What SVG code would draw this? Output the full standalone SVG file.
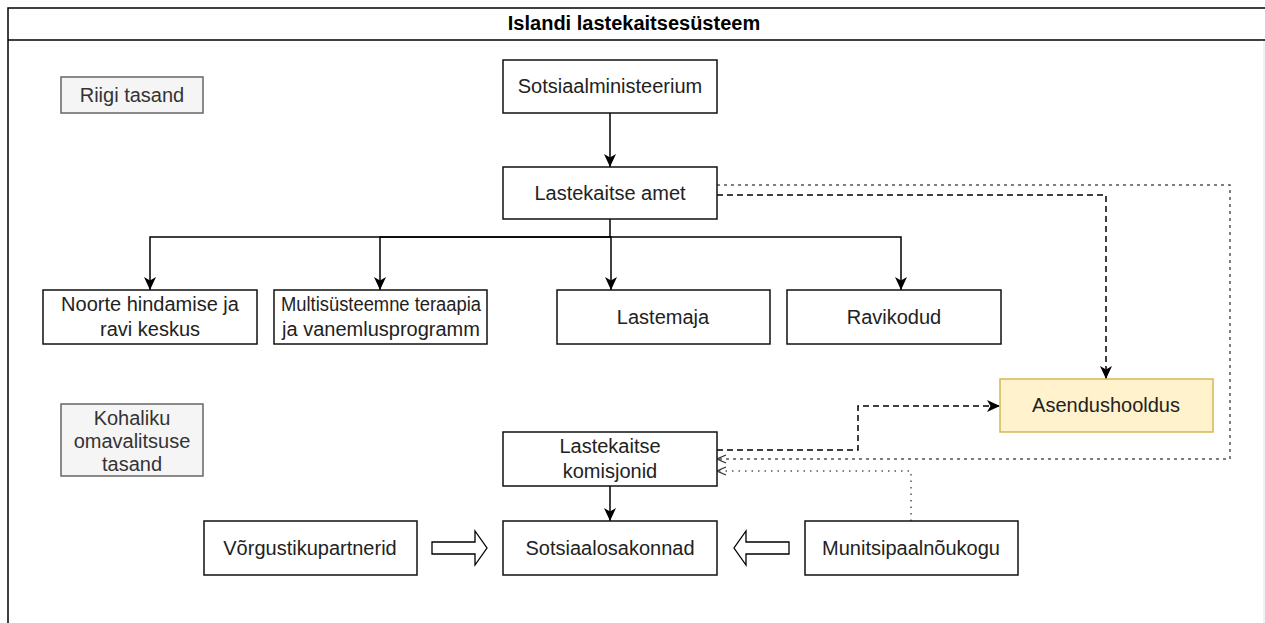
<svg xmlns="http://www.w3.org/2000/svg" width="1265" height="623" viewBox="0 0 1265 623">
<style>
text{font-family:"Liberation Sans",Arial,sans-serif;font-size:20px;fill:#222;text-anchor:middle}
.box{fill:#fff;stroke:#111;stroke-width:1.5}
.lvl{fill:#f5f5f5;stroke:#666;stroke-width:1.5}
.lvlt{fill:#333}
.yel{fill:#fff2cc;stroke:#d6b656;stroke-width:1.5}
.c{fill:none;stroke:#000;stroke-width:1.5}
.dash{stroke-dasharray:6 4}
.dot1{stroke:#555;stroke-dasharray:3 4}
.dot2{stroke:#555;stroke-dasharray:1.5 5}
.blk{fill:#fff;stroke:#000;stroke-width:1.3}
</style>
<defs>
<marker id="arr" viewBox="0 0 13 12" refX="13" refY="6" markerWidth="13" markerHeight="12" markerUnits="userSpaceOnUse" orient="auto">
<path d="M0,0 L13,6 L0,12 L3.5,6 Z" fill="#000"/>
</marker>
<marker id="open" viewBox="0 0 10 10" refX="10" refY="5" markerWidth="10" markerHeight="10" markerUnits="userSpaceOnUse" orient="auto">
<path d="M1,1 L10,5 L1,9" fill="none" stroke="#333" stroke-width="1.3"/>
</marker>
</defs>
<rect x="0" y="0" width="1265" height="623" fill="#fff"/>
<g id="container">
<rect x="8" y="8" width="1300" height="700" fill="#fff" stroke="#000" stroke-width="1.5"/>
<line x1="8" y1="40" x2="1265" y2="40" stroke="#000" stroke-width="1.5"/>
<line x1="1264" y1="41" x2="1264" y2="623" stroke="#e3e3e3" stroke-width="1"/>
<text x="634" y="30" style="font-weight:bold;fill:#000">Islandi lastekaitsesüsteem</text>
</g>
<g id="connectors">
<path class="c" d="M610,113 V167" marker-end="url(#arr)"/>
<path class="c" d="M610,219 V237 H150 V290" marker-end="url(#arr)"/>
<path class="c" d="M610,237 H380 V290" marker-end="url(#arr)"/>
<path class="c" d="M610,237 H611 V290" marker-end="url(#arr)"/>
<path class="c" d="M610,237 H901 V290" marker-end="url(#arr)"/>
<path class="c dash" d="M717,195 H1106 V379" marker-end="url(#arr)"/>
<path class="c dot1" d="M717,185 H1230 V459 H717" marker-end="url(#open)"/>
<path class="c dash" d="M717,450 H858 V406 H1000" marker-end="url(#arr)"/>
<path class="c dot2" d="M911,521 V471 H717" marker-end="url(#open)"/>
<path class="c" d="M610,486 V521" marker-end="url(#arr)"/>
<polygon class="blk" points="432,542 475,542 475,531 487,548 475,565 475,554 432,554"/>
<polygon class="blk" points="789,542 746,542 746,531 734,548 746,565 746,554 789,554"/>
</g>
<g id="riigi-tasand"><rect class="lvl" x="61" y="77" width="142" height="36"/><text class="lvlt" x="132" y="102">Riigi tasand</text></g>
<g id="kohaliku-tasand"><rect class="lvl" x="61" y="404" width="142" height="72"/><text class="lvlt" x="132" y="425">Kohaliku</text><text class="lvlt" x="132" y="448">omavalitsuse</text><text class="lvlt" x="132" y="471">tasand</text></g>
<g id="sotsiaalministeerium"><rect class="box" x="503" y="60" width="214" height="53"/><text x="610" y="93">Sotsiaalministeerium</text></g>
<g id="lastekaitse-amet"><rect class="box" x="503" y="167" width="214" height="52"/><text x="610" y="200">Lastekaitse amet</text></g>
<g id="noorte"><rect class="box" x="43" y="290" width="214" height="54"/><text x="150" y="311">Noorte hindamise ja</text><text x="150" y="336">ravi keskus</text></g>
<g id="multisysteemne"><rect class="box" x="274" y="290" width="213" height="54"/><text x="381" y="311" textLength="200" lengthAdjust="spacingAndGlyphs">Multisüsteemne teraapia</text><text x="381" y="336">ja vanemlusprogramm</text></g>
<g id="lastemaja"><rect class="box" x="557" y="290" width="213" height="54"/><text x="663" y="324">Lastemaja</text></g>
<g id="ravikodud"><rect class="box" x="787" y="290" width="214" height="54"/><text x="894" y="324">Ravikodud</text></g>
<g id="asendushooldus"><rect class="yel" x="1000" y="379" width="213" height="53"/><text x="1106" y="412">Asendushooldus</text></g>
<g id="komisjonid"><rect class="box" x="503" y="432" width="214" height="54"/><text x="610" y="453">Lastekaitse</text><text x="610" y="478">komisjonid</text></g>
<g id="vorgustikupartnerid"><rect class="box" x="204" y="521" width="213" height="54"/><text x="310" y="555">Võrgustikupartnerid</text></g>
<g id="sotsiaalosakonnad"><rect class="box" x="503" y="521" width="214" height="54"/><text x="610" y="555">Sotsiaalosakonnad</text></g>
<g id="munitsipaalnoukogu"><rect class="box" x="805" y="521" width="213" height="54"/><text x="911" y="555">Munitsipaalnõukogu</text></g>
</svg>
